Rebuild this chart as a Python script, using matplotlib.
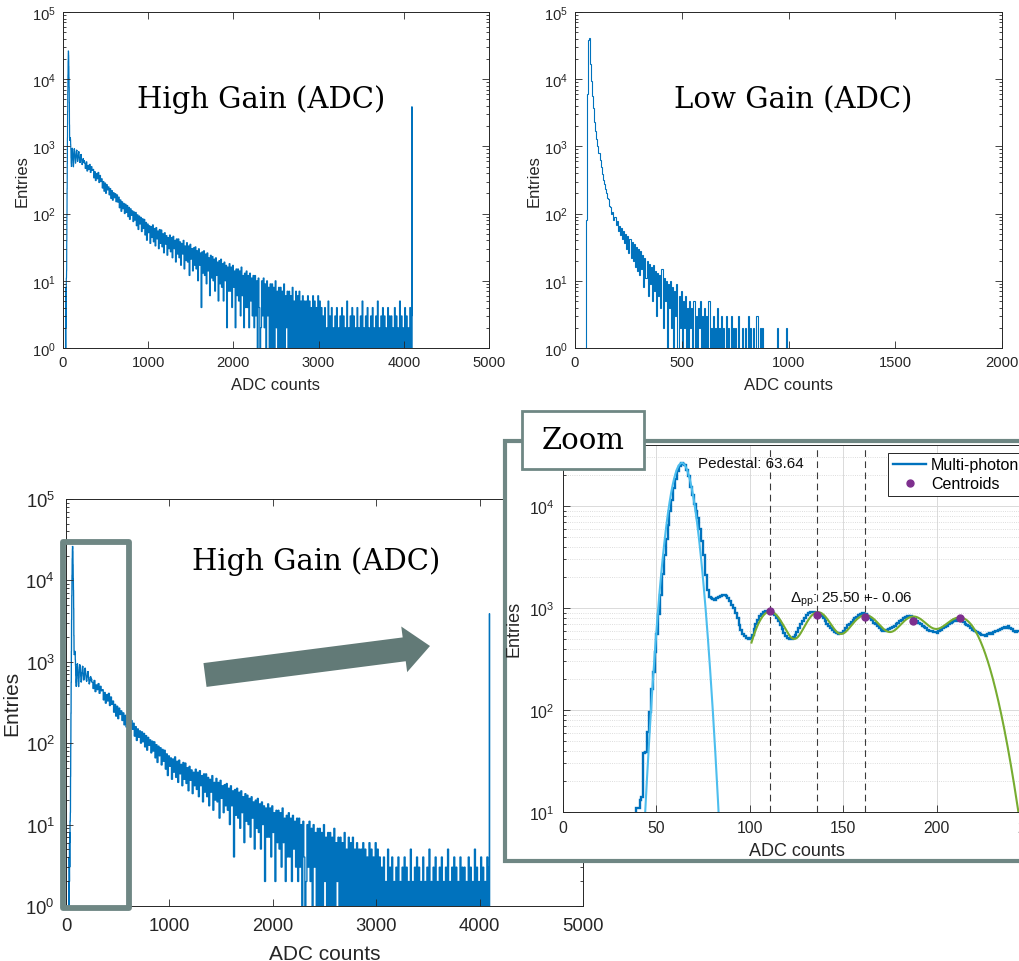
import numpy as np
import matplotlib.pyplot as plt
from matplotlib.lines import Line2D
from matplotlib.patches import FancyArrow, Rectangle
from matplotlib.ticker import LogLocator, NullFormatter
from matplotlib.transforms import IdentityTransform

plt.rcParams["font.family"] = ["Liberation Sans", "DejaVu Sans"]
plt.rcParams["mathtext.fontset"] = "custom"
plt.rcParams["mathtext.rm"] = "Liberation Sans"
plt.rcParams["mathtext.it"] = "Liberation Sans:italic"
plt.rcParams["mathtext.default"] = "regular"

# ---- High gain spectrum -------------------------------------------------
# 1-ADC bins from 30 to 250 (pedestal + first photon peaks)
hg_fine_start = 30
hg_fine = [
    2, 1, 4, 2, 6, 3, 5, 8, 6, 11,
    11, 13, 14, 38, 39, 61, 95, 160, 234, 370,
    560, 880, 1350, 2150, 3300, 4700, 6500, 8900, 11500, 15000,
    18500, 22000, 24500, 26500, 26000, 25000, 22500, 19500, 15500, 12800,
    10500, 9000, 7600, 5900, 4500, 3300, 2100, 1500, 1290, 1260,
    1230, 1210, 1240, 1280, 1310, 1330, 1350, 1320, 1260, 1170,
    1060, 990, 900, 800, 680, 610, 560, 530, 510, 495,
    505, 540, 620, 700, 770, 840, 880, 905, 930, 945,
    935, 950, 900, 860, 800, 740, 680, 620, 570, 535,
    510, 500, 495, 515, 540, 580, 640, 690, 750, 800,
    860, 890, 920, 905, 915, 895, 880, 870, 840, 790,
    750, 700, 670, 640, 605, 580, 565, 560, 570, 575,
    600, 630, 680, 700, 735, 760, 790, 820, 850, 870,
    885, 860, 870, 830, 800, 760, 720, 690, 660, 635,
    610, 600, 595, 605, 620, 630, 650, 670, 690, 710,
    745, 770, 800, 815, 830, 820, 835, 800, 780, 750,
    720, 700, 670, 650, 630, 615, 600, 590, 580, 585,
    575, 600, 610, 640, 650, 670, 690, 710, 735, 760,
    740, 755, 760, 745, 735, 700, 680, 660, 640, 615,
    600, 585, 570, 560, 540, 545, 535, 550, 565, 560,
    580, 590, 600, 610, 625, 640, 650, 635, 660, 640,
    620, 600, 585, 600, 590, 610, 620, 600, 605, 590,
]
# 10-ADC bins from 250 to 4090
hg_coarse_width = 10
hg_coarse = [
    560, 470, 590, 430, 520, 455, 540, 410, 500, 440,
    455, 340, 420, 310, 395, 330, 410, 290, 370, 300,
    330, 240, 300, 215, 285, 200, 270, 225, 250, 190,
    236, 168, 220, 158, 205, 172, 198, 150, 190, 148,
    176, 122, 160, 108, 150, 118, 142, 100, 138, 104,
    132, 90, 124, 82, 118, 94, 110, 76, 106, 80,
    104, 66, 96, 58, 92, 70, 88, 54, 84, 60,
    82, 48, 74, 40, 70, 52, 66, 36, 64, 44,
    68, 38, 60, 33, 62, 42, 55, 30, 58, 36,
    57, 32, 50, 26, 52, 35, 47, 24, 44, 30,
    48, 27, 44, 22, 46, 30, 40, 19, 42, 25,
    42, 22, 38, 17, 36, 25, 40, 15, 33, 20,
    37, 19, 33, 12, 35, 21, 30, 14, 31, 17,
    32, 15, 28, 10, 30, 17, 26, 4, 27, 13,
    28, 12, 25, 9, 26, 14, 22, 6, 24, 11,
    23, 10, 21, 7, 22, 12, 19, 5, 20, 9,
    21, 8, 18, 5, 19, 10, 17, 2, 16, 7,
    18, 7, 16, 4, 17, 8, 14, 2, 15, 6,
    15, 5, 14, 3, 16, 6, 12, 2, 13, 4,
    14, 4, 12, 2, 13, 5, 11, 3, 12, 2,
    12, 3, 10, 1, 11, 4, 0, 2, 10, 3,
    11, 2, 9, 0, 10, 3, 8, 1, 9, 0,
    9, 1, 8, 0, 10, 2, 7, 0, 8, 1,
    8, 0, 7, 1, 9, 0, 6, 2, 7, 0,
    7, 1, 6, 0, 8, 0, 5, 1, 7, 0,
    6, 0, 7, 1, 5, 0, 6, 0, 5, 1,
    5, 1, 6, 0, 5, 1, 4, 0, 6, 0,
    5, 0, 4, 1, 6, 0, 5, 1, 4, 0,
    3, 1, 4, 0, 2, 1, 5, 0, 3, 1,
    4, 0, 2, 1, 3, 0, 4, 1, 2, 0,
    3, 1, 4, 0, 3, 1, 2, 0, 5, 1,
    2, 0, 3, 1, 4, 0, 3, 1, 2, 0,
    4, 1, 2, 0, 3, 1, 5, 0, 2, 1,
    3, 0, 4, 1, 2, 0, 3, 1, 4, 0,
    2, 1, 3, 0, 5, 1, 2, 0, 3, 1,
    4, 0, 3, 1, 2, 0, 4, 1, 3, 0,
    3, 1, 2, 0, 4, 1, 3, 0, 2, 1,
    5, 0, 3, 1, 2, 1, 4, 0, 3, 1,
    2, 0, 4, 1,
]
# last bins, including the ADC overflow at 4095
hg_end_edges = [4090, 4094, 4097]
hg_end = [3, 3900]

# ---- Low gain spectrum (5-ADC bins from 45) -----------------------------
lg_start, lg_width = 45, 5
lg_counts = [
    0, 80, 6000, 38000, 41000, 17000, 9500, 5600, 3700, 2300,
    1700, 1300, 1000, 790, 620, 500, 390, 320, 275, 230,
    205, 170, 165, 128, 125, 100, 104, 80, 88, 68,
    78, 56, 66, 48, 62, 42, 55, 36, 50, 30,
    46, 26, 42, 22, 38, 20, 35, 16, 32, 14,
    30, 12, 28, 15, 24, 8, 22, 11, 20, 6,
    18, 9, 16, 5, 17, 7, 14, 3, 13, 6,
    12, 4, 15, 2, 11, 5, 10, 1, 9, 4,
    10, 2, 8, 0, 7, 3, 9, 1, 6, 2,
    7, 0, 5, 2, 6, 1, 4, 0, 5, 2,
    4, 0, 5, 1, 3, 0, 4, 2, 5, 0,
    3, 1, 4, 0, 3, 1, 5, 0, 2, 1,
    3, 0, 2, 1, 4, 0, 2, 0, 3, 1,
    2, 0, 3, 0, 2, 1, 0, 3, 0, 2,
    0, 2, 0, 1, 3, 0, 0, 2, 0, 1,
    2, 0, 0, 3, 0, 2, 0, 0, 2, 0,
    0, 3, 0, 0, 2, 0, 2, 0, 0, 0,
    0, 0, 0, 0, 0, 0, 0, 0, 0, 0,
    2, 0, 0, 0, 0, 0, 0, 0, 0, 2,
    0,
]

# ---- Fit results for the zoomed view ------------------------------------
ped_mean, ped_amp, ped_sigma = 63.64, 26400, 4.95
delta_pp, delta_pp_err = 25.50, 0.06
centroid_x = [110.7, 136.2, 161.7, 187.2, 212.7]
centroid_y = [925, 850, 820, 750, 805]
peak_amp = [920, 880, 840, 760, 800]
peak_sigma = [8.3, 7.6, 9.5, 8.4, 10.5]
fit_range = (100.9, 250)

BLUE = "#0072BD"
LIGHT_BLUE = "#4DBEEE"
GREEN = "#77AC30"
PURPLE = "#7E2F8E"
AX_COL = "#262626"
FRAME = "#6f8784"
ARROW = "#627a77"

W, H = 1020, 962
fig = plt.figure(figsize=(W / 100, H / 100), dpi=100)


def px_box(left, top, right, bottom):
    return [left / W, 1 - bottom / H, (right - left) / W, (bottom - top) / H]


def style_axes(ax, xticks, ylim, yticks, tick_fs, label_fs, pad=4, xlabelpad=4, ylabelpad=2):
    ax.set_yscale("log")
    ax.set_xlim(xticks[0], xticks[-1])
    ax.set_ylim(*ylim)
    ax.set_xticks(xticks)
    ax.set_yticks(yticks)
    ax.yaxis.set_minor_locator(LogLocator(base=10, subs=np.arange(2, 10), numticks=20))
    ax.yaxis.set_minor_formatter(NullFormatter())
    ax.tick_params(which="both", direction="in", top=True, right=True,
                   colors=AX_COL, width=0.6, labelsize=tick_fs, pad=pad)
    ax.tick_params(which="major", length=5)
    ax.tick_params(which="minor", length=2.5)
    for sp in ax.spines.values():
        sp.set_color(AX_COL)
        sp.set_linewidth(0.7)
    ax.set_xlabel("ADC counts", fontsize=label_fs, color=AX_COL, labelpad=xlabelpad)
    ax.set_ylabel("Entries", fontsize=label_fs, color=AX_COL, labelpad=ylabelpad)


hg_edges = np.concatenate([
    np.arange(hg_fine_start, hg_fine_start + len(hg_fine) + 1),
    hg_fine_start + len(hg_fine)
    + hg_coarse_width * np.arange(1, len(hg_coarse) + 1),
    hg_end_edges[1:],
])
hg_counts = np.array(hg_fine + hg_coarse + hg_end, dtype=float)
lg_edges = lg_start + lg_width * np.arange(len(lg_counts) + 1)

decades = [1e0, 1e1, 1e2, 1e3, 1e4, 1e5]

# top left: high gain
ax_hg = fig.add_axes(px_box(63, 13, 489, 349))
ax_hg.stairs(hg_counts, hg_edges, color=BLUE, lw=0.85)
style_axes(ax_hg, [0, 1000, 2000, 3000, 4000, 5000], (1, 1e5), decades, 10.6, 12,
           pad=5, xlabelpad=6)

# top right: low gain
ax_lg = fig.add_axes(px_box(575, 13, 1002, 349))
ax_lg.stairs(np.array(lg_counts, dtype=float), lg_edges, color=BLUE, lw=0.8)
style_axes(ax_lg, [0, 500, 1000, 1500, 2000], (1, 1e5), decades, 10.6, 12,
           pad=5, xlabelpad=6)

# bottom left: high gain again, with the zoomed window marked
ax_big = fig.add_axes(px_box(66, 500, 583, 907))
ax_big.stairs(hg_counts, hg_edges, color=BLUE, lw=0.95)
style_axes(ax_big, [0, 1000, 2000, 3000, 4000, 5000], (1, 1e5), decades, 13.3, 15,
           pad=8, xlabelpad=7, ylabelpad=3)
ax_big.add_patch(Rectangle((-29, 0.945), 638, 29600 - 0.945, fill=False,
                           ec=FRAME, lw=4.2, joinstyle="round", clip_on=False, zorder=5))

fig.text(261 / W, 1 - 100 / H, "High Gain (ADC)", family="DejaVu Serif",
         fontsize=21, ha="center", va="center")
fig.text(793 / W, 1 - 100 / H, "Low Gain (ADC)", family="DejaVu Serif",
         fontsize=21, ha="center", va="center")
fig.text(316 / W, 1 - 562 / H, "High Gain (ADC)", family="DejaVu Serif",
         fontsize=21, ha="center", va="center")

# arrow pointing to the zoomed view
fig.add_artist(FancyArrow(205, H - 676, 225, 29, width=24, head_width=46,
                          head_length=26, length_includes_head=True,
                          color=ARROW, lw=0, transform=IdentityTransform(), zorder=1))

# white frame holding the zoomed view
fig.add_artist(Rectangle((505, H - 862), 600, 420, fc="white", ec=FRAME, lw=3,
                         transform=IdentityTransform(), zorder=1))

ax_zoom = fig.add_axes(px_box(563, 445.6, 1030, 813))
ax_zoom.set_zorder(2)
ax_zoom.set_axisbelow(True)
ax_zoom.grid(True, which="major", color="#dadada", lw=0.7, ls="-")
ax_zoom.grid(True, which="minor", axis="y", color="#d2d2d2", lw=0.6, ls=":")

fine_edges = hg_edges[: len(hg_fine) + 1]
ax_zoom.stairs(np.array(hg_fine, dtype=float), fine_edges, color=BLUE, lw=1.7,
               label="Multi-photon")

xp = np.linspace(30, 100, 400)
ax_zoom.plot(xp, ped_amp * np.exp(-0.5 * ((xp - ped_mean) / ped_sigma) ** 2),
             color=LIGHT_BLUE, lw=1.5)

xf = np.linspace(fit_range[0], fit_range[1], 600)
yf = np.zeros_like(xf)
for mu, a, s in zip(centroid_x, peak_amp, peak_sigma):
    yf += a * np.exp(-0.5 * ((xf - mu) / s) ** 2)
ax_zoom.plot(xf, yf, color=GREEN, lw=1.5)

for cx in centroid_x[:3]:
    ax_zoom.axvline(cx, color="#3a3a3a", lw=0.8, ls=(0, (6, 4)))

ax_zoom.plot(centroid_x, centroid_y, "o", color=PURPLE, ms=5, label="Centroids", zorder=5)

style_axes(ax_zoom, [0, 50, 100, 150, 200, 250], (10, 4e4), [1e1, 1e2, 1e3, 1e4], 11.3, 13,
           pad=6, xlabelpad=5, ylabelpad=5)
ax_zoom.tick_params(top=False, right=False)

ax_zoom.text(ped_mean + 8.7, 2.4e4, f"Pedestal: {ped_mean:.2f}", fontsize=11,
             color="#111111", va="baseline")
ax_zoom.text(121.5, 1150, rf"$\Delta_{{pp}}$: {delta_pp:.2f} +- {delta_pp_err:.2f}",
             fontsize=11, color="#111111", va="baseline")

handles = [Line2D([], [], color=BLUE, lw=1.7),
           Line2D([], [], ls="", marker="o", color=PURPLE, ms=5)]
leg = ax_zoom.legend(handles, ["Multi-photon", "Centroids"], loc="upper left",
                     bbox_to_anchor=(0.696, 0.978), fontsize=11.5, frameon=True,
                     fancybox=False, framealpha=1, edgecolor=AX_COL, borderpad=0.3,
                     labelspacing=0.25, handlelength=2.1, handletextpad=0.3,
                     borderaxespad=0)
leg.get_frame().set_linewidth(0.7)

# label box over the frame corner
fig.add_artist(Rectangle((522, H - 470), 122, 58, fc="white", ec=FRAME, lw=2,
                         transform=IdentityTransform(), zorder=3))
fig.text(583 / W, 1 - 441 / H, "Zoom", family="DejaVu Serif", fontsize=21,
         ha="center", va="center", zorder=4)

fig.savefig("out.png", dpi=100)
